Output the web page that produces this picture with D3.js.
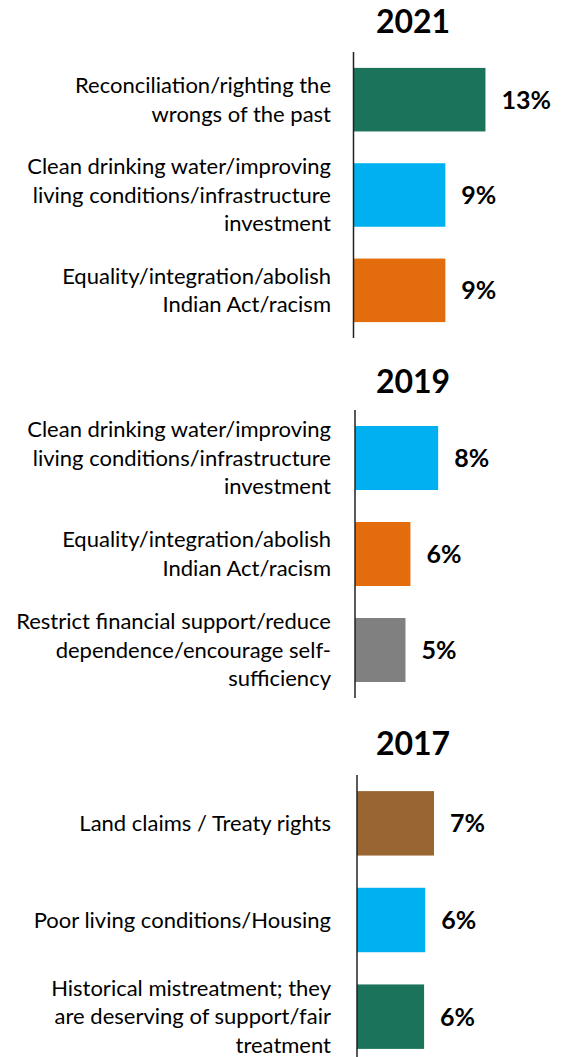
<!DOCTYPE html>
<html>
<head>
<meta charset="utf-8">
<script src="https://cdn.jsdelivr.net/npm/d3@7"></script>
<style>
    body { margin: 0; background: #fff; }
    svg text { font-family: Lato, "Open Sans", sans-serif; }
</style>
</head>
<body>
<div id="chart"></div>
<script>
// Data, one small set per year panel
let years = ["2021", "2019", "2017"];

let categories2021 = [
    "Reconciliation/righting the\nwrongs of the past",
    "Clean drinking water/improving\nliving conditions/infrastructure\ninvestment",
    "Equality/integration/abolish\nIndian Act/racism"
];
let values2021 = [13.0, 9.05, 9.05];
let colors2021 = ["#1a735a", "#00b0f0", "#e36c0c"];

let categories2019 = [
    "Clean drinking water/improving\nliving conditions/infrastructure\ninvestment",
    "Equality/integration/abolish\nIndian Act/racism",
    "Restrict financial support/reduce\ndependence/encourage self-\nsufficiency"
];
let values2019 = [8.4, 5.6, 5.1];
let colors2019 = ["#00b0f0", "#e36c0c", "#808080"];

let categories2017 = [
    "Land claims / Treaty rights",
    "Poor living conditions/Housing",
    "Historical mistreatment; they\nare deserving of support/fair\ntreatment"
];
let values2017 = [7.0, 6.2, 6.1];
let colors2017 = ["#996633", "#00b0f0", "#1a735a"];

let WIDTH = 576,
    HEIGHT = 1057,
    LABEL_X = 331,
    LINE_H = 28.5
;

// each panel was a separate chart, so each has its own layout / scale
let panels = [
    {year: years[0], cats: categories2021, vals: values2021, colors: colors2021,
        axisX: 353.5, top: 52, bottom: 338, titleY: 33, pxPerUnit: 10.15},
    {year: years[1], cats: categories2019, vals: values2019, colors: colors2019,
        axisX: 355, top: 410, bottom: 698, titleY: 393, pxPerUnit: 9.9},
    {year: years[2], cats: categories2017, vals: values2017, colors: colors2017,
        axisX: 357, top: 775, bottom: 1065, titleY: 755, pxPerUnit: 11}
];

let svg = d3.select("#chart")
    .append("svg")
    .attr("width", WIDTH)
    .attr("height", HEIGHT);

panels.forEach(function (p) {
    let g = svg.append("g");

    let y = d3.scaleBand()
        .domain(p.cats)
        .range([p.top, p.bottom])
        .paddingInner(1 / 3)
        .paddingOuter(1 / 6);

    let x = d3.scaleLinear()
        .domain([0, 20])
        .range([p.axisX, p.axisX + 20 * p.pxPerUnit]);

    // title
    g.append("text")
        .attr("x", 413)
        .attr("y", p.titleY)
        .attr("text-anchor", "middle")
        .attr("font-size", 32)
        .attr("font-weight", "bold")
        .attr("fill", "#000")
        .text(p.year);

    // bars
    g.selectAll("rect")
        .data(p.vals)
        .enter()
        .append("rect")
        .attr("x", x(0))
        .attr("y", (d, i) => y(p.cats[i]))
        .attr("width", d => x(d) - x(0))
        .attr("height", y.bandwidth())
        .attr("fill", (d, i) => p.colors[i]);

    // value labels
    g.selectAll(".val")
        .data(p.vals)
        .enter()
        .append("text")
        .classed("val", true)
        .attr("x", d => x(d) + 16)
        .attr("y", (d, i) => y(p.cats[i]) + y.bandwidth() / 2)
        .attr("dy", "0.36em")
        .attr("font-size", 25)
        .attr("font-weight", "bold")
        .attr("fill", "#000")
        .text(d => d3.format(".0f")(d) + "%");

    // category labels (multi-line, right aligned, centered on bar)
    p.cats.forEach(function (c) {
        let lines = c.split("\n");
        let cy = y(c) + y.bandwidth() / 2;
        let t = g.append("text")
            .attr("text-anchor", "end")
            .attr("font-size", 22)
            .attr("fill", "#000");
        lines.forEach(function (line, i) {
            t.append("tspan")
                .attr("x", LABEL_X)
                .attr("y", cy + (i - (lines.length - 1) / 2) * LINE_H)
                .attr("dy", "0.35em")
                .text(line);
        });
    });

    // axis line
    g.append("line")
        .attr("x1", p.axisX)
        .attr("x2", p.axisX)
        .attr("y1", p.top)
        .attr("y2", p.bottom)
        .attr("stroke", "#222")
        .attr("stroke-width", 1.5);
});
</script>
</body>
</html>
